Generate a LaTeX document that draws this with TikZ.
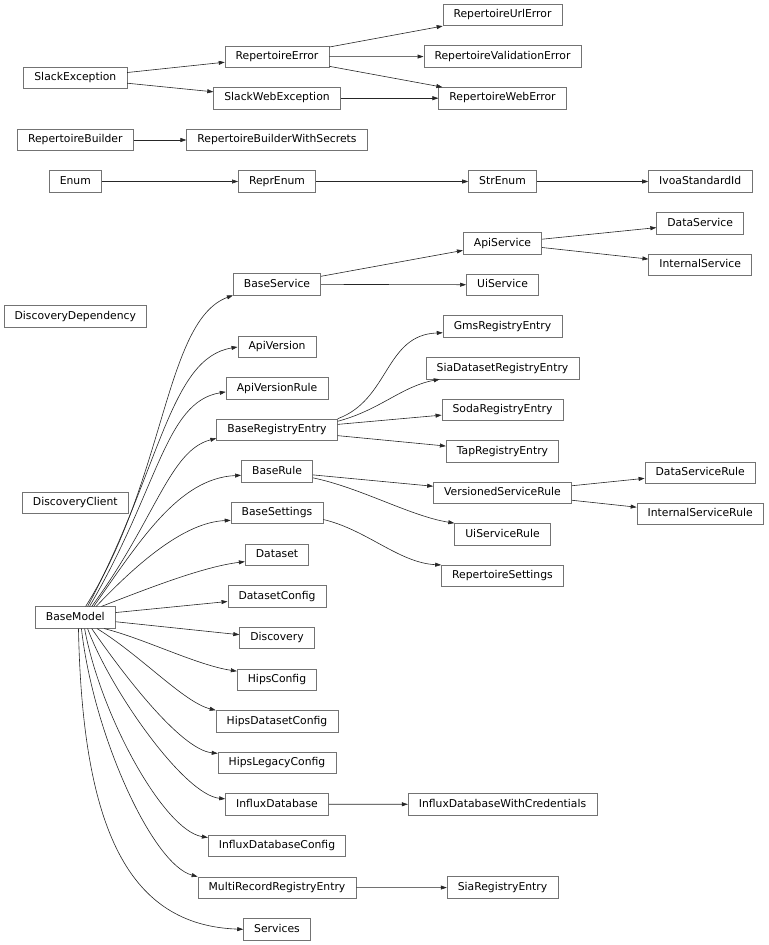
\documentclass[tikz,border=0pt]{standalone}
\usepackage{fontspec}
\setmainfont{DejaVu Sans}
\usetikzlibrary{arrows.meta}

\begin{document}
\begin{tikzpicture}[x=0.75pt,y=0.75pt,
    cls/.style={draw=black!55, line width=0.5pt, fill=white, inner xsep=8pt,
      inner ysep=0pt, minimum height=16.1pt, text height=6.1pt, text depth=1.9pt,
      font=\fontsize{8.1}{10}\selectfont},
    inh/.style={draw=black!85, line width=0.45pt, -{Triangle[length=4.5pt,width=3pt]}}]
    \useasboundingbox (0,0) rectangle (768,-945);
    % exceptions
    \node[cls] (SlackException) at (75.3,-78) {SlackException};
    \node[cls] (RepertoireError) at (277,-56.7) {RepertoireError};
    \node[cls] (SlackWebException) at (277,-98.2) {SlackWebException};
    \node[cls] (RepertoireUrlError) at (502.5,-15) {RepertoireUrlError};
    \node[cls] (RepertoireValidationError) at (502.5,-56.5) {RepertoireValidationError};
    \node[cls] (RepertoireWebError) at (502.5,-98.2) {RepertoireWebError};
    \draw[inh] (SlackException) -- (RepertoireError);
    \draw[inh] (SlackException) -- (SlackWebException);
    \draw[inh] (RepertoireError) -- (RepertoireUrlError);
    \draw[inh] (RepertoireError) -- (RepertoireValidationError);
    \draw[inh] (RepertoireError) -- (RepertoireWebError);
    \draw[inh] (SlackWebException) -- (RepertoireWebError);
    % builder
    \node[cls] (RepertoireBuilder) at (75.3,-140) {RepertoireBuilder};
    \node[cls] (RepertoireBuilderWithSecrets) at (277,-140) {RepertoireBuilderWithSecrets};
    \draw[inh] (RepertoireBuilder) -- (RepertoireBuilderWithSecrets);
    % enums
    \node[cls] (Enum) at (75.3,-181.5) {Enum};
    \node[cls] (ReprEnum) at (277,-181.5) {ReprEnum};
    \node[cls] (StrEnum) at (502.5,-181.5) {StrEnum};
    \node[cls] (IvoaStandardId) at (700.2,-181.5) {IvoaStandardId};
    \draw[inh] (Enum) -- (ReprEnum);
    \draw[inh] (ReprEnum) -- (StrEnum);
    \draw[inh] (StrEnum) -- (IvoaStandardId);
    % classes seules
    \node[cls] (DiscoveryDependency) at (75.3,-316.3) {DiscoveryDependency};
    \node[cls] (DiscoveryClient) at (75.3,-503) {DiscoveryClient};
    % modeles
    \node[cls] (BaseModel) at (75.3,-617.5) {BaseModel};
    \node[cls] (BaseService) at (277,-284.3) {BaseService};
    \node[cls] (ApiVersion) at (277,-347) {ApiVersion};
    \node[cls] (ApiVersionRule) at (277,-388.3) {ApiVersionRule};
    \node[cls] (BaseRegistryEntry) at (277,-429.8) {BaseRegistryEntry};
    \node[cls] (BaseRule) at (277,-471.5) {BaseRule};
    \node[cls] (BaseSettings) at (277,-513) {BaseSettings};
    \node[cls] (Dataset) at (277,-554.8) {Dataset};
    \node[cls] (DatasetConfig) at (277,-596.3) {DatasetConfig};
    \node[cls] (Discovery) at (277,-638) {Discovery};
    \node[cls] (HipsConfig) at (277,-679.7) {HipsConfig};
    \node[cls] (HipsDatasetConfig) at (277,-721.3) {HipsDatasetConfig};
    \node[cls] (HipsLegacyConfig) at (277,-762.8) {HipsLegacyConfig};
    \node[cls] (InfluxDatabase) at (277,-804.3) {InfluxDatabase};
    \node[cls] (InfluxDatabaseConfig) at (277,-846) {InfluxDatabaseConfig};
    \node[cls] (MultiRecordRegistryEntry) at (277,-887.7) {MultiRecordRegistryEntry};
    \node[cls] (Services) at (277,-929.3) {Services};
    \draw[inh] (BaseModel.47) .. controls +(80,127) and +(-68,-25) .. (BaseService.south west);
    \draw[inh] (BaseModel.42) .. controls +(73,137) and +(-68,-11) .. (ApiVersion.west);
    \draw[inh] (BaseModel.38) .. controls +(69,117) and +(-61,-10) .. (ApiVersionRule.184);
    \draw[inh] (BaseModel.34) .. controls +(64,87) and +(-47,-12) .. (BaseRegistryEntry.188);
    \draw[inh] (BaseModel.31) .. controls +(47,67) and +(-62,-3) .. (BaseRule.186);
    \draw[inh] (BaseModel.28) .. controls +(40,42) and +(-47,-2) .. (BaseSettings.189);
    \draw[inh] (BaseModel.23) .. controls +(49,19) and +(-41,-5) .. (Dataset.192);
    \draw[inh] (BaseModel.7) -- (DatasetConfig.186);
    \draw[inh] (BaseModel.354) -- (Discovery.175);
    \draw[inh] (BaseModel.339) .. controls +(40,-10) and +(-40,6) .. (HipsConfig.168);
    \draw[inh] (BaseModel.333) .. controls +(44,-27) and +(-32,8) .. (HipsDatasetConfig.north west);
    \draw[inh] (BaseModel.326) .. controls +(29,-42) and +(-38,4) .. (HipsLegacyConfig.171);
    \draw[inh] (BaseModel.318) .. controls +(23,-62) and +(-41,4) .. (InfluxDatabase.174);
    \draw[inh] (BaseModel.310) .. controls +(16,-87) and +(-44,7) .. (InfluxDatabaseConfig.173);
    \draw[inh] (BaseModel.299) .. controls +(12,-107) and +(-45,12) .. (MultiRecordRegistryEntry.north west);
    \draw[inh] (BaseModel.286) .. controls +(4,-202) and +(-114,4) .. (Services.west);
    % services
    \node[cls] (ApiService) at (502.5,-243.2) {ApiService};
    \node[cls] (UiService) at (502.5,-284.8) {UiService};
    \node[cls] (DataService) at (700.2,-223.2) {DataService};
    \node[cls] (InternalService) at (700.2,-264.7) {InternalService};
    \draw[inh] (BaseService) -- (ApiService);
    \draw[inh] (BaseService) -- (UiService);
    \draw[inh] (ApiService) -- (DataService);
    \draw[inh] (ApiService) -- (InternalService);
    % registre
    \node[cls] (GmsRegistryEntry) at (502.5,-326.5) {GmsRegistryEntry};
    \node[cls] (SiaDatasetRegistryEntry) at (502.5,-368.2) {SiaDatasetRegistryEntry};
    \node[cls] (SodaRegistryEntry) at (502.5,-409.7) {SodaRegistryEntry};
    \node[cls] (TapRegistryEntry) at (502.5,-451.5) {TapRegistryEntry};
    \draw[inh] (BaseRegistryEntry.north east) .. controls +(52,19) and +(-58,-2) .. (GmsRegistryEntry.186);
    \draw[inh] (BaseRegistryEntry.8) .. controls +(42,11) and +(-38,-7) .. (SiaDatasetRegistryEntry.190);
    \draw[inh] (BaseRegistryEntry) -- (SodaRegistryEntry);
    \draw[inh] (BaseRegistryEntry) -- (TapRegistryEntry);
    % regles
    \node[cls] (VersionedServiceRule) at (502.5,-492.8) {VersionedServiceRule};
    \node[cls] (UiServiceRule) at (502.5,-534.2) {UiServiceRule};
    \node[cls] (DataServiceRule) at (700.2,-472.7) {DataServiceRule};
    \node[cls] (InternalServiceRule) at (700.2,-514) {InternalServiceRule};
    \draw[inh] (BaseRule) -- (VersionedServiceRule);
    \draw[inh] (BaseRule.350) .. controls +(48,-10) and +(-44,7) .. (UiServiceRule.north west);
    \draw[inh] (VersionedServiceRule) -- (DataServiceRule);
    \draw[inh] (VersionedServiceRule) -- (InternalServiceRule);
    % reglages et bases
    \node[cls] (RepertoireSettings) at (502.5,-576) {RepertoireSettings};
    \draw[inh] (BaseSettings.352) .. controls +(43,-10) and +(-42,2) .. (RepertoireSettings.north west);
    \node[cls] (InfluxDatabaseWithCredentials) at (502.5,-804.2) {InfluxDatabaseWithCredentials};
    \draw[inh] (InfluxDatabase) -- (InfluxDatabaseWithCredentials);
    \node[cls] (SiaRegistryEntry) at (502.5,-887.5) {SiaRegistryEntry};
    \draw[inh] (MultiRecordRegistryEntry) -- (SiaRegistryEntry);
  \end{tikzpicture}
\end{document}
